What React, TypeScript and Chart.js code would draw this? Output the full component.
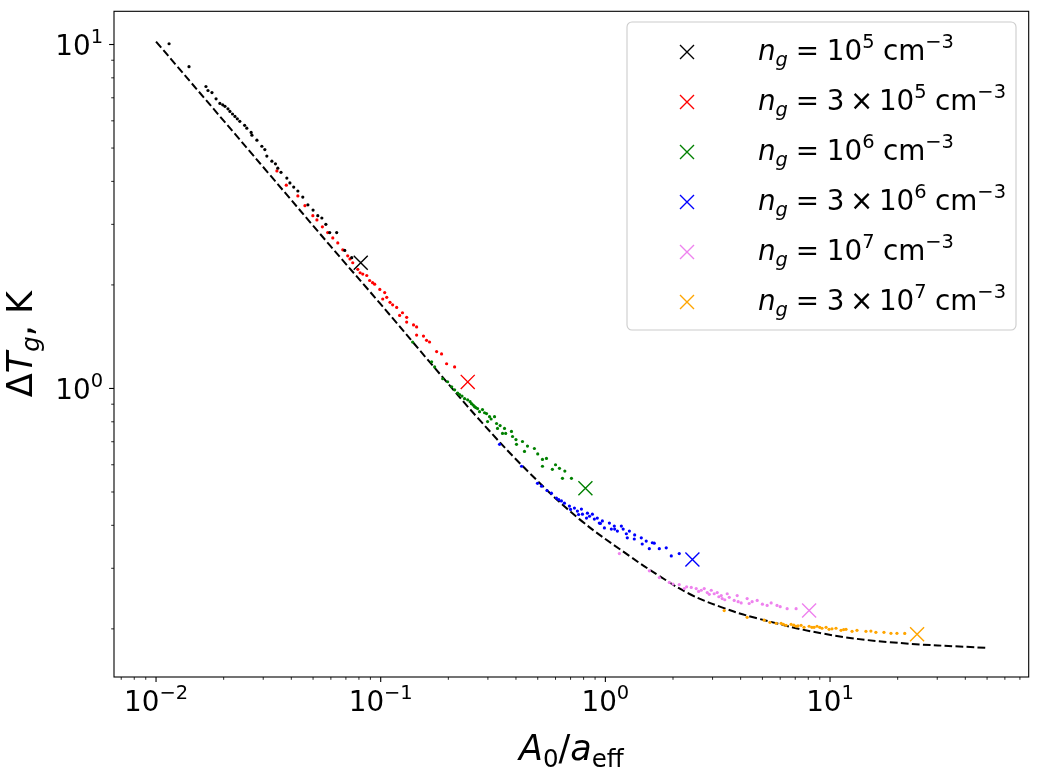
import React, { useEffect, useRef } from 'react';
import { Chart, registerables, ChartConfiguration, Plugin } from 'chart.js';

Chart.register(...registerables);

const FONT = '"DejaVu Sans", sans-serif';

// axis limits (log scales)
const X_MIN = 0.0065;
const X_MAX = 76.6;
const Y_MIN = 0.1449;
const Y_MAX = 12.49;

// dashed reference curve
const curveX = [0.01, 0.0321, 0.0593, 0.0991, 0.165, 0.2754, 0.4595, 0.766, 1.279, 1.738, 2.36, 3.3, 4.69, 9.21, 18.3, 50];
const curveY = [10.2, 4.18, 2.61, 1.77, 1.195, 0.81, 0.568, 0.417, 0.326, 0.285, 0.253, 0.231, 0.215, 0.194, 0.183, 0.176];

// n_g = 1e5
const blackX = [0.01143, 0.01402, 0.01668, 0.01703, 0.01774, 0.0185, 0.01924, 0.0198, 0.02027, 0.0209, 0.02133, 0.0219, 0.02245, 0.023, 0.0236, 0.0248, 0.02536, 0.0265, 0.02672, 0.02812, 0.02958, 0.0305, 0.03113, 0.03278, 0.034, 0.03484, 0.036, 0.03821, 0.03943, 0.041, 0.04279, 0.045, 0.04742, 0.05, 0.05248, 0.0547, 0.057, 0.0593, 0.0637, 0.0692, 0.0743];
const blackY = [10.05, 8.62, 7.55, 7.35, 7.25, 6.95, 6.74, 6.68, 6.61, 6.5, 6.39, 6.28, 6.18, 6.08, 5.98, 5.82, 5.71, 5.55, 5.45, 5.27, 5.06, 4.95, 4.74, 4.58, 4.5, 4.37, 4.25, 4.09, 3.96, 3.85, 3.75, 3.6, 3.42, 3.3, 3.18, 3.13, 3.0, 2.84, 2.84, 2.52, 2.4];

// n_g = 3e5
const redX = [0.03451, 0.038, 0.04279, 0.046, 0.04989, 0.052, 0.055, 0.0581, 0.0612, 0.0644, 0.0678, 0.0713, 0.073, 0.0751, 0.0791, 0.081, 0.0832, 0.0867, 0.0893, 0.092, 0.094, 0.0991, 0.1042, 0.1021, 0.1064, 0.11, 0.113, 0.1178, 0.1214, 0.125, 0.1305, 0.1305, 0.14, 0.1445, 0.1445, 0.155, 0.16, 0.165, 0.1774, 0.1866, 0.1965, 0.2133];
const redY = [4.29, 3.9, 3.63, 3.4, 3.18, 3.09, 2.95, 2.84, 2.74, 2.65, 2.53, 2.43, 2.38, 2.32, 2.22, 2.17, 2.15, 2.13, 2.06, 2.03, 2.01, 1.94, 1.9, 1.82, 1.84, 1.78, 1.75, 1.72, 1.63, 1.66, 1.61, 1.56, 1.53, 1.51, 1.43, 1.42, 1.38, 1.365, 1.28, 1.26, 1.18, 1.155];

// n_g = 1e6
const greenX = [0.1387, 0.1685, 0.1738, 0.1888, 0.1986, 0.207, 0.2133, 0.22, 0.2244, 0.23, 0.2362, 0.2438, 0.25, 0.2536, 0.258, 0.2618, 0.265, 0.2698, 0.2754, 0.2838, 0.29, 0.2958, 0.3052, 0.31, 0.3211, 0.299, 0.3279, 0.3311, 0.34, 0.3557, 0.36, 0.3485, 0.382, 0.3862, 0.4, 0.4022, 0.4276, 0.4365, 0.45, 0.4831, 0.5, 0.5248, 0.5468, 0.5248, 0.5808, 0.6, 0.6247, 0.6442, 0.66, 0.7063];
const greenY = [1.365, 1.195, 1.155, 1.067, 1.046, 1.011, 0.991, 0.97, 0.959, 0.95, 0.934, 0.927, 0.915, 0.903, 0.895, 0.885, 0.88, 0.874, 0.856, 0.868, 0.85, 0.845, 0.828, 0.815, 0.828, 0.801, 0.791, 0.765, 0.78, 0.765, 0.74, 0.74, 0.75, 0.725, 0.71, 0.688, 0.701, 0.656, 0.68, 0.669, 0.645, 0.622, 0.626, 0.594, 0.582, 0.6, 0.586, 0.548, 0.575, 0.548];

// n_g = 3e6
const blueX = [0.3381, 0.4236, 0.4988, 0.5199, 0.55, 0.5754, 0.6056, 0.62, 0.6374, 0.6572, 0.6918, 0.7, 0.7282, 0.7508, 0.76, 0.7822, 0.7907, 0.8318, 0.8241, 0.85, 0.8753, 0.8933, 0.9204, 0.9397, 0.95, 0.9697, 0.9902, 1.042, 1.063, 1.096, 1.1, 1.131, 1.178, 1.2, 1.24, 1.279, 1.252, 1.345, 1.35, 1.445, 1.459, 1.52, 1.618, 1.569, 1.65, 1.738, 1.866, 1.965, 2.132];
const blueY = [0.688, 0.594, 0.53, 0.52, 0.505, 0.496, 0.48, 0.475, 0.471, 0.464, 0.455, 0.445, 0.449, 0.44, 0.43, 0.446, 0.431, 0.434, 0.42, 0.425, 0.431, 0.417, 0.42, 0.406, 0.405, 0.412, 0.393, 0.406, 0.39, 0.398, 0.39, 0.385, 0.398, 0.39, 0.378, 0.385, 0.368, 0.365, 0.375, 0.368, 0.353, 0.36, 0.356, 0.342, 0.355, 0.342, 0.344, 0.326, 0.331];

// n_g = 1e7
const violetX = [1.154, 1.569, 1.738, 1.925, 2.0, 2.132, 2.244, 2.3, 2.411, 2.537, 2.6, 2.671, 2.754, 2.84, 2.9, 2.96, 3.051, 3.146, 3.2, 3.279, 3.311, 3.4, 3.486, 3.56, 3.744, 3.861, 3.9, 4.022, 4.276, 4.365, 4.5, 4.739, 5.0, 5.248, 5.47, 5.808, 6.0, 6.442, 7.063];
const violetY = [0.331, 0.295, 0.282, 0.273, 0.27, 0.269, 0.262, 0.265, 0.264, 0.262, 0.257, 0.259, 0.262, 0.255, 0.252, 0.259, 0.253, 0.255, 0.248, 0.25, 0.245, 0.243, 0.253, 0.247, 0.242, 0.25, 0.24, 0.238, 0.245, 0.237, 0.24, 0.242, 0.236, 0.234, 0.238, 0.234, 0.232, 0.229, 0.229];

// n_g = 3e7
const orangeX = [3.38, 4.276, 5.09, 5.4, 5.754, 6.056, 6.2, 6.374, 6.71, 6.9, 7.063, 7.2, 7.43, 7.66, 8.07, 8.3, 8.49, 8.75, 9.0, 9.21, 9.6, 9.9, 10.2, 10.63, 11.19, 11.5, 11.78, 12.53, 13.18, 14.45, 15.2, 16.0, 17.38, 18.67, 19.85, 21.5];
const orangeY = [0.226, 0.216, 0.212, 0.209, 0.2075, 0.2075, 0.206, 0.2048, 0.2062, 0.205, 0.2035, 0.204, 0.2048, 0.2021, 0.2035, 0.202, 0.2021, 0.2035, 0.202, 0.2008, 0.2021, 0.1994, 0.2, 0.2008, 0.1981, 0.199, 0.1994, 0.1967, 0.1981, 0.1967, 0.197, 0.1954, 0.1954, 0.1941, 0.1941, 0.194];

// big x markers, one per density
const markerX = [0.0815, 0.244, 0.815, 2.44, 8.07, 24.4];
const markerY = [2.32, 1.045, 0.513, 0.318, 0.226, 0.193];

const colors = ['#000000', '#ff0000', '#008000', '#0000ff', '#ee82ee', '#ffa500'];
const densityCoef = ['', '3', '', '3', '', '3'];
const densityExp = ['5', '5', '6', '6', '7', '7'];

const groupsX = [blackX, redX, greenX, blueX, violetX, orangeX];
const groupsY = [blackY, redY, greenY, blueY, violetY, orangeY];

const zip = (xs: number[], ys: number[]) => xs.map((x, i) => ({ x, y: ys[i] }));

type Seg = { t: string; it?: boolean; sub?: boolean; sup?: boolean; kl?: number; kr?: number };

const segFont = (s: Seg, size: number) =>
  `${s.it ? 'italic ' : ''}${s.sub || s.sup ? size * 0.7 : size}px ${FONT}`;

function drawMath(ctx: CanvasRenderingContext2D, segs: Seg[], x: number, y: number, size: number, align: 'left' | 'center' | 'right') {
  let w = 0;
  for (const s of segs) {
    ctx.font = segFont(s, size);
    w += ((s.kl || 0) + (s.kr || 0)) * size + ctx.measureText(s.t).width;
  }
  let cx = align === 'left' ? x : align === 'center' ? x - w / 2 : x - w;
  ctx.textAlign = 'left';
  ctx.textBaseline = 'alphabetic';
  for (const s of segs) {
    ctx.font = segFont(s, size);
    cx += (s.kl || 0) * size;
    const dy = s.sup ? -0.42 * size : s.sub ? 0.2 * size : 0;
    ctx.fillText(s.t, cx, y + dy);
    cx += ctx.measureText(s.t).width + (s.kr || 0) * size;
  }
}

const powerLabel = (e: number): Seg[] => [{ t: '10' }, { t: e < 0 ? '\u2212' + -e : String(e), sup: true }];

const legendSegs = (i: number): Seg[] => {
  const segs: Seg[] = [{ t: 'n', it: true }, { t: 'g', it: true, sub: true }, { t: '=', kl: 0.28, kr: 0.28 }];
  if (densityCoef[i]) segs.push({ t: densityCoef[i] }, { t: '\u00d7', kl: 0.2, kr: 0.2 });
  segs.push({ t: '10' }, { t: densityExp[i], sup: true }, { t: 'cm', kl: 0.3 }, { t: '\u22123', sup: true });
  return segs;
};

const mplPlugin: Plugin = {
  id: 'mplAxes',
  afterDraw(chart) {
    const { ctx, chartArea: a } = chart;
    const xs = chart.scales.x;
    const ys = chart.scales.y;
    ctx.save();
    ctx.fillStyle = '#000';
    ctx.strokeStyle = '#000';

    // ticks
    const tickVals = (min: number, max: number) => {
      const out: { v: number; e: number; major: boolean }[] = [];
      for (let e = Math.floor(Math.log10(min)); e <= Math.ceil(Math.log10(max)); e++) {
        for (let m = 1; m <= 9; m++) {
          const v = m * Math.pow(10, e);
          if (v >= min && v <= max) out.push({ v, e, major: m === 1 });
        }
      }
      return out;
    };
    for (const t of tickVals(X_MIN, X_MAX)) {
      const px = xs.getPixelForValue(t.v);
      ctx.lineWidth = t.major ? 1.1 : 0.85;
      ctx.beginPath();
      ctx.moveTo(px, a.bottom);
      ctx.lineTo(px, a.bottom + (t.major ? 4.9 : 2.8));
      ctx.stroke();
      if (t.major) drawMath(ctx, powerLabel(t.e), px, a.bottom + 34, 27.8, 'center');
    }
    for (const t of tickVals(Y_MIN, Y_MAX)) {
      const py = ys.getPixelForValue(t.v);
      ctx.lineWidth = t.major ? 1.1 : 0.85;
      ctx.beginPath();
      ctx.moveTo(a.left, py);
      ctx.lineTo(a.left - (t.major ? 4.9 : 2.8), py);
      ctx.stroke();
      if (t.major) drawMath(ctx, powerLabel(t.e), a.left - 11, py + 10.5, 27.8, 'right');
    }

    // frame
    ctx.lineWidth = 1.1;
    ctx.strokeRect(a.left, a.top, a.right - a.left, a.bottom - a.top);

    // axis titles
    drawMath(ctx, [{ t: 'A', it: true }, { t: '0', sub: true }, { t: '/' }, { t: 'a', it: true }, { t: 'eff', sub: true }],
      (a.left + a.right) / 2, 760, 35, 'center');
    ctx.save();
    ctx.translate(32, (a.top + a.bottom) / 2);
    ctx.rotate(-Math.PI / 2);
    drawMath(ctx, [{ t: '\u0394' }, { t: 'T', it: true }, { t: 'g', it: true, sub: true }, { t: ', K' }], 0, 0, 35, 'center');
    ctx.restore();

    // legend
    const lx = 627, ly = 22, lw = 389, lh = 308, r = 5;
    ctx.beginPath();
    ctx.moveTo(lx + r, ly);
    ctx.arcTo(lx + lw, ly, lx + lw, ly + lh, r);
    ctx.arcTo(lx + lw, ly + lh, lx, ly + lh, r);
    ctx.arcTo(lx, ly + lh, lx, ly, r);
    ctx.arcTo(lx, ly, lx + lw, ly, r);
    ctx.closePath();
    ctx.fillStyle = 'rgba(255,255,255,0.8)';
    ctx.fill();
    ctx.strokeStyle = '#cccccc';
    ctx.lineWidth = 1.1;
    ctx.stroke();
    colors.forEach((c, i) => {
      const cy = 52 + i * 50;
      ctx.strokeStyle = c;
      ctx.lineWidth = 1.4;
      ctx.beginPath();
      ctx.moveTo(680, cy - 7);
      ctx.lineTo(694, cy + 7);
      ctx.moveTo(680, cy + 7);
      ctx.lineTo(694, cy - 7);
      ctx.stroke();
      ctx.fillStyle = '#000';
      drawMath(ctx, legendSegs(i), 758, cy + 8, 27.8, 'left');
    });
    ctx.restore();
  },
};

const App: React.FC = () => {
  const canvasRef = useRef<HTMLCanvasElement>(null);

  useEffect(() => {
    if (!canvasRef.current) return;

    const config: ChartConfiguration = {
      type: 'scatter',
      data: {
        datasets: [
          {
            label: 'fit',
            data: zip(curveX, curveY),
            showLine: true,
            borderColor: '#000',
            borderWidth: 2,
            borderDash: [7.7, 3.3],
            pointRadius: 0,
            tension: 0.4,
            order: 3,
          } as any,
          ...groupsX.map((gx, i) => ({
            label: 'dots ' + i,
            data: zip(gx, groupsY[i]),
            pointRadius: 1.6,
            pointBackgroundColor: colors[i],
            pointBorderWidth: 0,
            order: 2,
          })),
          ...colors.map((c, i) => ({
            label: 'marker ' + i,
            data: [{ x: markerX[i], y: markerY[i] }],
            pointStyle: 'crossRot',
            pointRadius: 9.9,
            pointBorderColor: c,
            pointBorderWidth: 1.4,
            order: 1,
          })),
        ],
      },
      options: {
        responsive: false,
        animation: false,
        layout: { padding: { left: 114, right: 11, top: 7, bottom: 93 } },
        plugins: { legend: { display: false }, tooltip: { enabled: false } },
        scales: {
          x: { type: 'logarithmic', min: X_MIN, max: X_MAX, display: false, bounds: 'data' },
          y: { type: 'logarithmic', min: Y_MIN, max: Y_MAX, display: false, bounds: 'data' },
        },
      },
      plugins: [mplPlugin],
    };

    const chart = new Chart(canvasRef.current, config);
    return () => chart.destroy();
  }, []);

  return (
    <div style={{ position: 'absolute', left: 0, top: 0, width: 1040, height: 770, background: '#fff' }}>
      <canvas ref={canvasRef} width={1040} height={770} style={{ width: 1040, height: 770 }} />
    </div>
  );
};

export default App;
